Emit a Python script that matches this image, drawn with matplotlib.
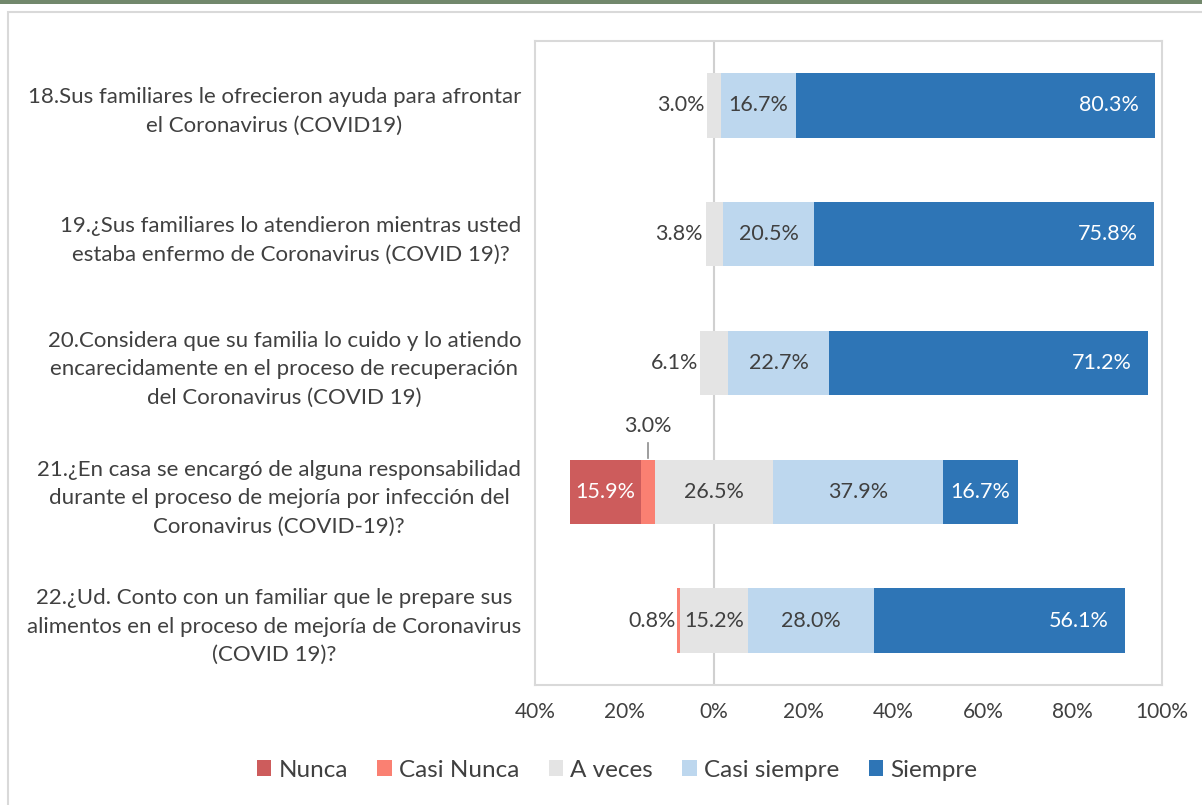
import matplotlib
matplotlib.use("Agg")
import matplotlib.pyplot as plt
from matplotlib.patches import Rectangle
from matplotlib.ticker import FuncFormatter
import numpy as np

plt.rcParams['font.family'] = ['Lato', 'DejaVu Sans']

categories = [
    "18.Sus familiares le ofrecieron ayuda para afrontar\nel Coronavirus (COVID19)",
    "19.¿Sus familiares lo atendieron mientras usted\nestaba enfermo de Coronavirus (COVID 19)?",
    "20.Considera que su familia lo cuido y lo atiendo\nencarecidamente en el proceso de recuperación\ndel Coronavirus (COVID 19)",
    "21.¿En casa se encargó de alguna responsabilidad\ndurante el proceso de mejoría por infección del\nCoronavirus (COVID-19)?",
    "22.¿Ud. Conto con un familiar que le prepare sus\nalimentos en el proceso de mejoría de Coronavirus\n(COVID 19)?",
]
series_names = ["Nunca", "Casi Nunca", "A veces", "Casi siempre", "Siempre"]
nunca = [0.0, 0.0, 0.0, 15.9, 0.0]
casi_nunca = [0.0, 0.0, 0.0, 3.0, 0.8]
a_veces = [3.0, 3.8, 6.1, 26.5, 15.2]
casi_siempre = [16.7, 20.5, 22.7, 37.9, 28.0]
siempre = [80.3, 75.8, 71.2, 16.7, 56.1]
xticks = [-40, -20, 0, 20, 40, 60, 80, 100]

colors = ["#CD5C5C", "#FA8072", "#E4E4E4", "#BDD7EE", "#2E75B6"]
txt = "#404040"

fig = plt.figure(figsize=(12.02, 8.05), dpi=100)
# top decorative strip
fig.patches.append(Rectangle((0, 1 - 4/805), 1, 4/805, transform=fig.transFigure,
                             facecolor="#72886c", edgecolor="none", zorder=0))
# outer chart border
fig.patches.append(Rectangle((8/1202, -0.01), 1.0, 1 - 12/805 + 0.01, transform=fig.transFigure,
                             facecolor="none", edgecolor="#d9d9d9", lw=1.5, zorder=0))

ax = fig.add_axes([535/1202, 1 - 685/805, (1162 - 535)/1202, (685 - 41)/805])

n = len(categories)
y = np.arange(n)[::-1]  # first category at top
h = 0.5

nun = np.array(nunca); cn = np.array(casi_nunca); av = np.array(a_veces)
cs = np.array(casi_siempre); si = np.array(siempre)

av_left = -av / 2
cn_left = av_left - cn
nu_left = cn_left - nun
cs_left = av / 2
si_left = cs_left + cs

segs = [(nun, nu_left), (cn, cn_left), (av, av_left), (cs, cs_left), (si, si_left)]
for (vals, lefts), c, name in zip(segs, colors, series_names):
    ax.barh(y, vals, left=lefts, height=h, color=c, label=name, zorder=2)

fs = 15.5
for i in range(n):
    yi = y[i]
    # Nunca
    if nun[i] > 0:
        ax.text(nu_left[i] + nun[i] / 2, yi, f"{nun[i]:.1f}%", ha="center", va="center",
                color="white", fontsize=fs, zorder=4)
    # Casi Nunca
    if cn[i] > 0:
        if nun[i] > 0:
            xc = cn_left[i] + cn[i] / 2
            ax.plot([xc, xc], [yi + h / 2 + 0.01, yi + h / 2 + 0.13], color="#8c8c8c", lw=1.2, zorder=3)
            ax.text(xc, yi + h / 2 + 0.26, f"{cn[i]:.1f}%", ha="center", va="center",
                    color=txt, fontsize=fs, zorder=4)
        else:
            ax.text(cn_left[i] - 0.2, yi, f"{cn[i]:.1f}%", ha="right", va="center",
                    color=txt, fontsize=fs, zorder=4)
    # A veces
    if av[i] >= 10:
        ax.text(0, yi, f"{av[i]:.1f}%", ha="center", va="center", color=txt, fontsize=fs, zorder=4)
    else:
        ax.text(av_left[i] - 0.6, yi, f"{av[i]:.1f}%", ha="right", va="center",
                color=txt, fontsize=fs, zorder=4)
    # Casi siempre
    ax.text(cs_left[i] + cs[i] / 2, yi, f"{cs[i]:.1f}%", ha="center", va="center",
            color=txt, fontsize=fs, zorder=4)
    # Siempre
    if si[i] < 25:
        ax.text(si_left[i] + si[i] / 2, yi, f"{si[i]:.1f}%", ha="center", va="center",
                color="white", fontsize=fs, zorder=4)
    else:
        ax.text(si_left[i] + si[i] - 3.6, yi, f"{si[i]:.1f}%", ha="right", va="center",
                color="white", fontsize=fs, zorder=4)

ax.axvline(0, color="#d0d0d0", lw=1.5, zorder=1)
ax.set_xlim(-40, 100)
ax.set_ylim(-0.5, n - 0.5)
ax.set_xticks(xticks)
ax.xaxis.set_major_formatter(FuncFormatter(lambda v, p: f"{abs(v):.0f}%"))
ax.tick_params(axis="x", length=0, labelsize=15, labelcolor=txt, pad=12)
ax.set_yticks(y)
ax.set_yticklabels(categories, fontsize=16, color=txt, multialignment="center", linespacing=1.53)
ax.tick_params(axis="y", length=0, pad=10)
for s in ax.spines.values():
    s.set_color("#d9d9d9")
    s.set_linewidth(1.5)

fig.legend(loc="center", bbox_to_anchor=(617/1202, 1 - 770/805), ncol=5, frameon=False,
           fontsize=17.5, labelcolor=txt, handlelength=0.6, handleheight=0.6,
           handletextpad=0.3, columnspacing=1.2)

fig.savefig("out.png", dpi=100)
